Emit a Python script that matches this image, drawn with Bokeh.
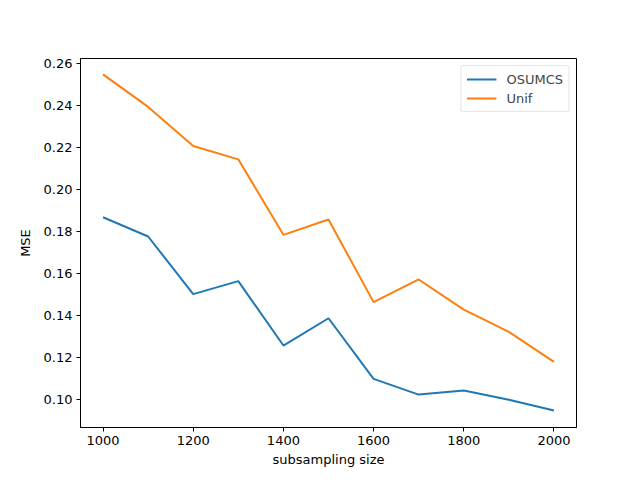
from bokeh.plotting import figure
from bokeh.models import Range1d, FixedTicker, Legend, LegendItem, NumeralTickFormatter
from bokeh.embed import file_html
from bokeh.resources import INLINE

sizes = [1000, 1100, 1200, 1300, 1400, 1500, 1600, 1700, 1800, 1900, 2000]
osumcs = [0.1868, 0.1776, 0.1501, 0.1563, 0.1256, 0.1386, 0.1097, 0.1022, 0.1041, 0.0997, 0.0946]
unif = [0.2549, 0.2394, 0.2208, 0.2144, 0.1784, 0.1857, 0.1463, 0.1571, 0.1427, 0.1321, 0.1178]
x_ticks = [1000, 1200, 1400, 1600, 1800, 2000]
y_ticks = [0.10, 0.12, 0.14, 0.16, 0.18, 0.20, 0.22, 0.24, 0.26]

FONT = "DejaVu Sans"

p = figure(width=632, height=472, output_backend="svg", toolbar_location=None,
           x_range=Range1d(950, 2050), y_range=Range1d(0.0865, 0.2625),
           min_border_left=80, min_border_right=56, min_border_top=58, min_border_bottom=45)

p.xgrid.visible = False
p.ygrid.visible = False
p.outline_line_color = "black"
p.outline_line_width = 1
p.outline_line_alpha = 1
p.background_fill_color = "white"
p.border_fill_color = "white"

l1 = p.line(sizes, osumcs, line_color="#1f77b4", line_width=2)
l2 = p.line(sizes, unif, line_color="#ff7f0e", line_width=2)

for ax in (p.xaxis[0], p.yaxis[0]):
    ax.axis_line_color = "black"
    ax.major_tick_line_color = "black"
    ax.major_tick_out = 4
    ax.major_tick_in = 0
    ax.minor_tick_line_color = None
    ax.major_label_text_font = FONT
    ax.major_label_text_font_size = "13px"
    ax.major_label_text_color = "black"
    ax.axis_label_text_font = FONT
    ax.axis_label_text_font_size = "13px"
    ax.axis_label_text_font_style = "normal"
    ax.axis_label_text_color = "black"

p.xaxis.ticker = FixedTicker(ticks=x_ticks)
p.yaxis.ticker = FixedTicker(ticks=y_ticks)
p.yaxis.formatter = NumeralTickFormatter(format="0.00")
p.xaxis.axis_label = "subsampling size"
p.yaxis.axis_label = "MSE"
p.xaxis.major_label_standoff = 4
p.yaxis.major_label_standoff = 4
p.xaxis.axis_label_standoff = 4
p.yaxis.axis_label_standoff = 8

legend = Legend(items=[LegendItem(label="OSUMCS", renderers=[l1]),
                       LegendItem(label="Unif", renderers=[l2])],
                location="top_right")
legend.label_text_font = FONT
legend.label_text_font_size = "13px"
legend.border_line_color = "#cccccc"
legend.border_line_width = 1
legend.border_radius = 3
legend.glyph_width = 30
legend.glyph_height = 16
legend.label_height = 16
legend.label_standoff = 10
legend.spacing = 3
legend.padding = 5
legend.margin = 7
legend.background_fill_alpha = 0.8
p.add_layout(legend)

open("out.html", "w").write(file_html(p, INLINE))
